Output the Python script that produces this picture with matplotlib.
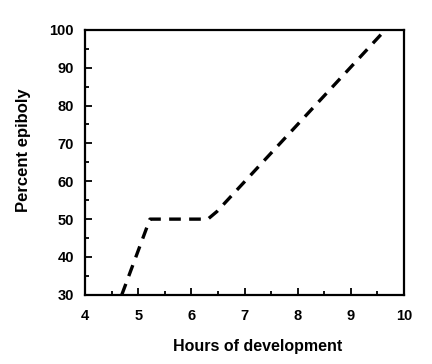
import matplotlib
matplotlib.use("Agg")
import matplotlib.pyplot as plt
from matplotlib.ticker import MultipleLocator

# Epiboly progress
hours = [4.69, 5.22, 6.31, 6.48, 9.65]
epiboly = [30, 50, 50, 52, 100]

plt.rcParams['font.family'] = ['Liberation Sans', 'DejaVu Sans']

fig = plt.figure(figsize=(4.32, 3.64), dpi=100)
ax = fig.add_axes([0.197, 0.19, 0.738, 0.728])

ax.plot(hours, epiboly, color="black", linewidth=2.4, linestyle=(0, (3.5, 2.5)))

ax.set_xlim(4, 10)
ax.set_ylim(30, 100)
ax.xaxis.set_major_locator(MultipleLocator(1))
ax.xaxis.set_minor_locator(MultipleLocator(0.5))
ax.yaxis.set_major_locator(MultipleLocator(10))
ax.yaxis.set_minor_locator(MultipleLocator(5))
ax.tick_params(which="both", direction="in", top=False, right=False, width=1.3)
ax.tick_params(which="major", length=5, labelsize=10.5)
ax.tick_params(axis="x", which="major", pad=10)
ax.tick_params(axis="y", which="major", pad=8)
ax.tick_params(which="minor", length=3)
for lab in ax.get_xticklabels() + ax.get_yticklabels():
    lab.set_fontweight("bold")

for s in ax.spines.values():
    s.set_linewidth(1.6)

ax.set_xlabel("Hours of development", fontsize=11.5, fontweight="bold")
ax.xaxis.set_label_coords(0.542, -0.166)
ax.set_ylabel("Percent epiboly", fontsize=12, fontweight="bold")
ax.yaxis.set_label_coords(-0.17, 0.547)

fig.savefig("out.png", dpi=100)
